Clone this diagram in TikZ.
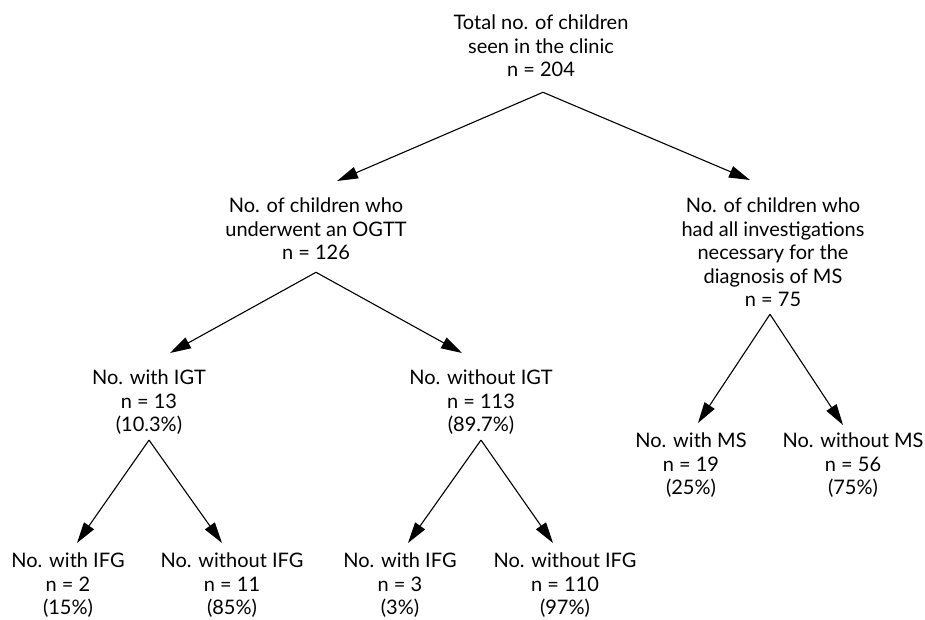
\documentclass[tikz,border=0pt]{standalone}
\usepackage{fontspec}
\setmainfont{Lato}
\usepackage{tikz}
\usetikzlibrary{arrows.meta, positioning, calc}
\tikzstyle{box} = [align=center, inner sep=0pt, anchor=north, font=\fontsize{20pt}{23.5pt}\selectfont]
\tikzstyle{arrow} = [line width=1.1pt,->,>={Triangle[length=21pt,width=12pt]}]

\begin{document}
\begin{tikzpicture}[x=1pt, y=-1pt]
\useasboundingbox (0,0) rectangle (925,619);

\node[box] (root) at (541,15) {Total no. of children\\seen in the clinic\\n = 204};

\node[box] (ogtt) at (316,198) {No. of children who\\underwent an OGTT\\n = 126};
\node[box] (msall) at (773,198) {No. of children who\\had all investigations\\necessary for the\\diagnosis of MS\\n = 75};

\node[box] (igt) at (149,370) {No. with IGT\\n = 13\\(10.3\%)};
\node[box] (noigt) at (481,370) {No. without IGT\\n = 113\\(89.7\%)};

\node[box] (ms) at (691,433) {No. with MS\\n = 19\\(25\%)};
\node[box] (noms) at (853,433) {No. without MS\\n = 56\\(75\%)};

\node[box] (ifga) at (68,553) {No. with IFG\\n = 2\\(15\%)};
\node[box] (noifga) at (232,553) {No. without IFG\\n = 11\\(85\%)};
\node[box] (ifgb) at (400,553) {No. with IFG\\n = 3\\(3\%)};
\node[box] (noifgb) at (565,553) {No. without IFG\\n = 110\\(97\%)};

\draw[arrow] ([xshift=2pt,yshift=-15pt]root.south) -- ([xshift=21pt,yshift=17pt]ogtt.north);
\draw[arrow] ([xshift=2pt,yshift=-15pt]root.south) -- ([xshift=-23pt,yshift=18pt]msall.north);
\draw[arrow] ([yshift=-12pt]ogtt.south) -- ([xshift=21pt,yshift=17pt]igt.north);
\draw[arrow] ([yshift=-12pt]ogtt.south) -- ([xshift=-19pt,yshift=17pt]noigt.north);
\draw[arrow] ([yshift=-5pt]igt.south) -- ([xshift=9pt,yshift=10pt]ifga.north);
\draw[arrow] ([yshift=-5pt]igt.south) -- ([xshift=-10pt,yshift=10pt]noifga.north);
\draw[arrow] ([yshift=-5pt]noigt.south) -- ([xshift=8pt,yshift=10pt]ifgb.north);
\draw[arrow] ([yshift=-5pt]noigt.south) -- ([xshift=-12pt,yshift=10pt]noifgb.north);
\draw[arrow] ([xshift=-3pt,yshift=-7pt]msall.south) -- ([xshift=7pt,yshift=10pt]ms.north);
\draw[arrow] ([xshift=-3pt,yshift=-7pt]msall.south) -- ([xshift=-10pt,yshift=8pt]noms.north);

\end{tikzpicture}
\end{document}
